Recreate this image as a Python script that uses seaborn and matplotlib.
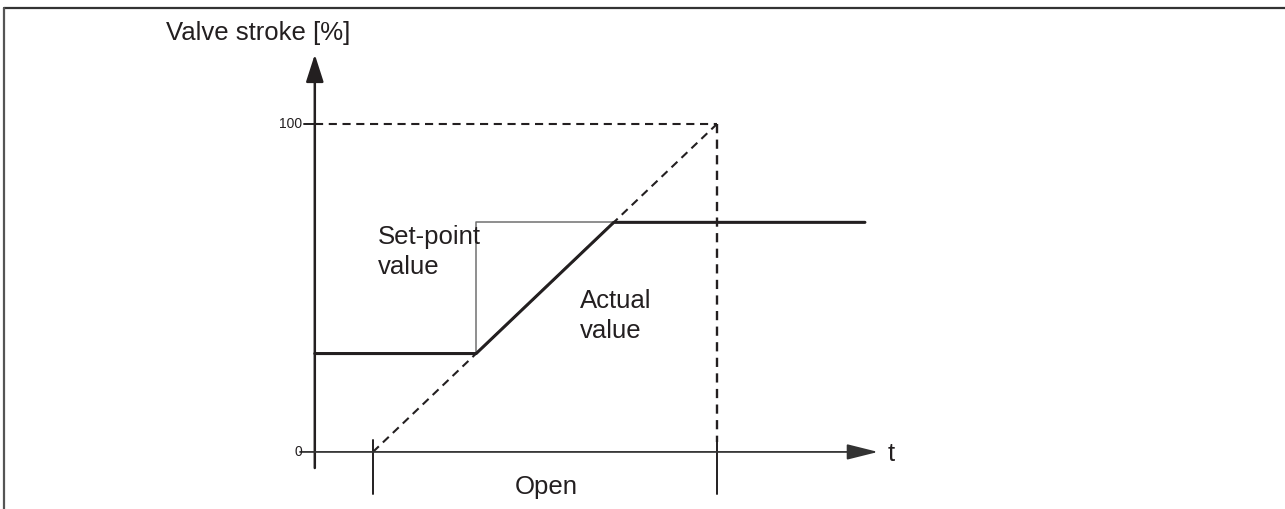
import matplotlib
matplotlib.use("Agg")
import matplotlib.pyplot as plt
import seaborn as sns
import pandas as pd

sns.set_theme(style="white")
plt.rcParams['font.family'] = ['Liberation Sans', 'DejaVu Sans']

# ------------------------
# data (time in arbitrary units, stroke in %)
# ------------------------
t_axis = -16.9          # where the stroke axis sits on the time axis
t_step = 30             # set-point jumps here
t_end = 143
ramp_t = [0, 100]
ramp_val = [0, 100]
set_t = [t_axis, t_step, t_step, t_end]
set_val = [30, 30, 70, 70]
act_t = [t_axis, t_step, 70, t_end]
act_val = [30, 30, 70, 70]
yticks = [0, 100]
ytick_labels = ["0", "100"]

ink = "#231f20"
dash = (0, (3.9, 2.7))

fig = plt.figure(figsize=(12.85, 5.09), dpi=100)
ax = fig.add_axes([0, 0, 1, 1])
ax.set_xlim(-108.4, 265.1)
ax.set_ylim(-17.4, 137.8)
ax.axis("off")

# frame (top + left only)
ax.plot([-107.1, 265.1], [135.3, 135.3], color="#333333", lw=1.6, clip_on=False)
ax.plot([-107.1, -107.1], [-17.4, 135.3], color="#555555", lw=1.6, clip_on=False)

# ------------------------
# axes with arrows
# ------------------------
ax.annotate("", xy=(t_axis, 121.2), xytext=(t_axis, -4.9),
            arrowprops=dict(arrowstyle="-|>,head_length=1.4,head_width=0.45",
                            color=ink, lw=1.8, shrinkA=0, shrinkB=0))
ax.annotate("", xy=(146.8, 0), xytext=(-21.2, 0),
            arrowprops=dict(arrowstyle="-|>,head_length=1.6,head_width=0.4",
                            color="#333333", lw=1.3, shrinkA=0, shrinkB=0))

for v, lab in zip(yticks, ytick_labels):
    if v > 0:
        ax.plot([-19.9, t_axis + 1.4], [v, v], color=ink, lw=1.4)
    ax.text(-20.6, v, lab, ha="right", va="center", fontsize=10, color=ink)

# ------------------------
# dashed guides
# ------------------------
ax.plot([t_axis, 100], [100, 100], color=ink, lw=1.5, ls=dash)
ax.plot([100, 100], [100, 3], color=ink, lw=1.7, ls=dash)
sns.lineplot(x=ramp_t, y=ramp_val, ax=ax, color=ink, lw=1.5,
             linestyle=dash, estimator=None, sort=False)

# markers for the opening time
ax.plot([0, 0], [3.7, -12.8], color=ink, lw=1.4)
ax.plot([100, 100], [3.0, -12.8], color=ink, lw=1.4)

# ------------------------
# set-point and actual value
# ------------------------
df_set = pd.DataFrame({"t": set_t, "v": set_val})
df_act = pd.DataFrame({"t": act_t, "v": act_val})
sns.lineplot(data=df_set, x="t", y="v", ax=ax, color="#707070", lw=1.1,
             estimator=None, sort=False)
sns.lineplot(data=df_act, x="t", y="v", ax=ax, color=ink, lw=2.2,
             estimator=None, sort=False)

# ------------------------
# labels
# ------------------------
fs = 18.5
ax.text(-60.2, 127.8, "Valve stroke [%]", fontsize=fs, color=ink, va="center", ha="left")
ax.text(1.4, 61.0, "Set-point\nvalue", fontsize=fs, color=ink, va="center", ha="left",
        linespacing=1.3)
ax.text(60.2, 41.5, "Actual\nvalue", fontsize=fs, color=ink, va="center", ha="left",
        linespacing=1.3)
ax.text(149.6, -0.5, "t", fontsize=fs, color=ink, va="center", ha="left")
ax.text(50.4, -10.6, "Open", fontsize=fs, color=ink, va="center", ha="center")

fig.savefig("out.png", dpi=100)
